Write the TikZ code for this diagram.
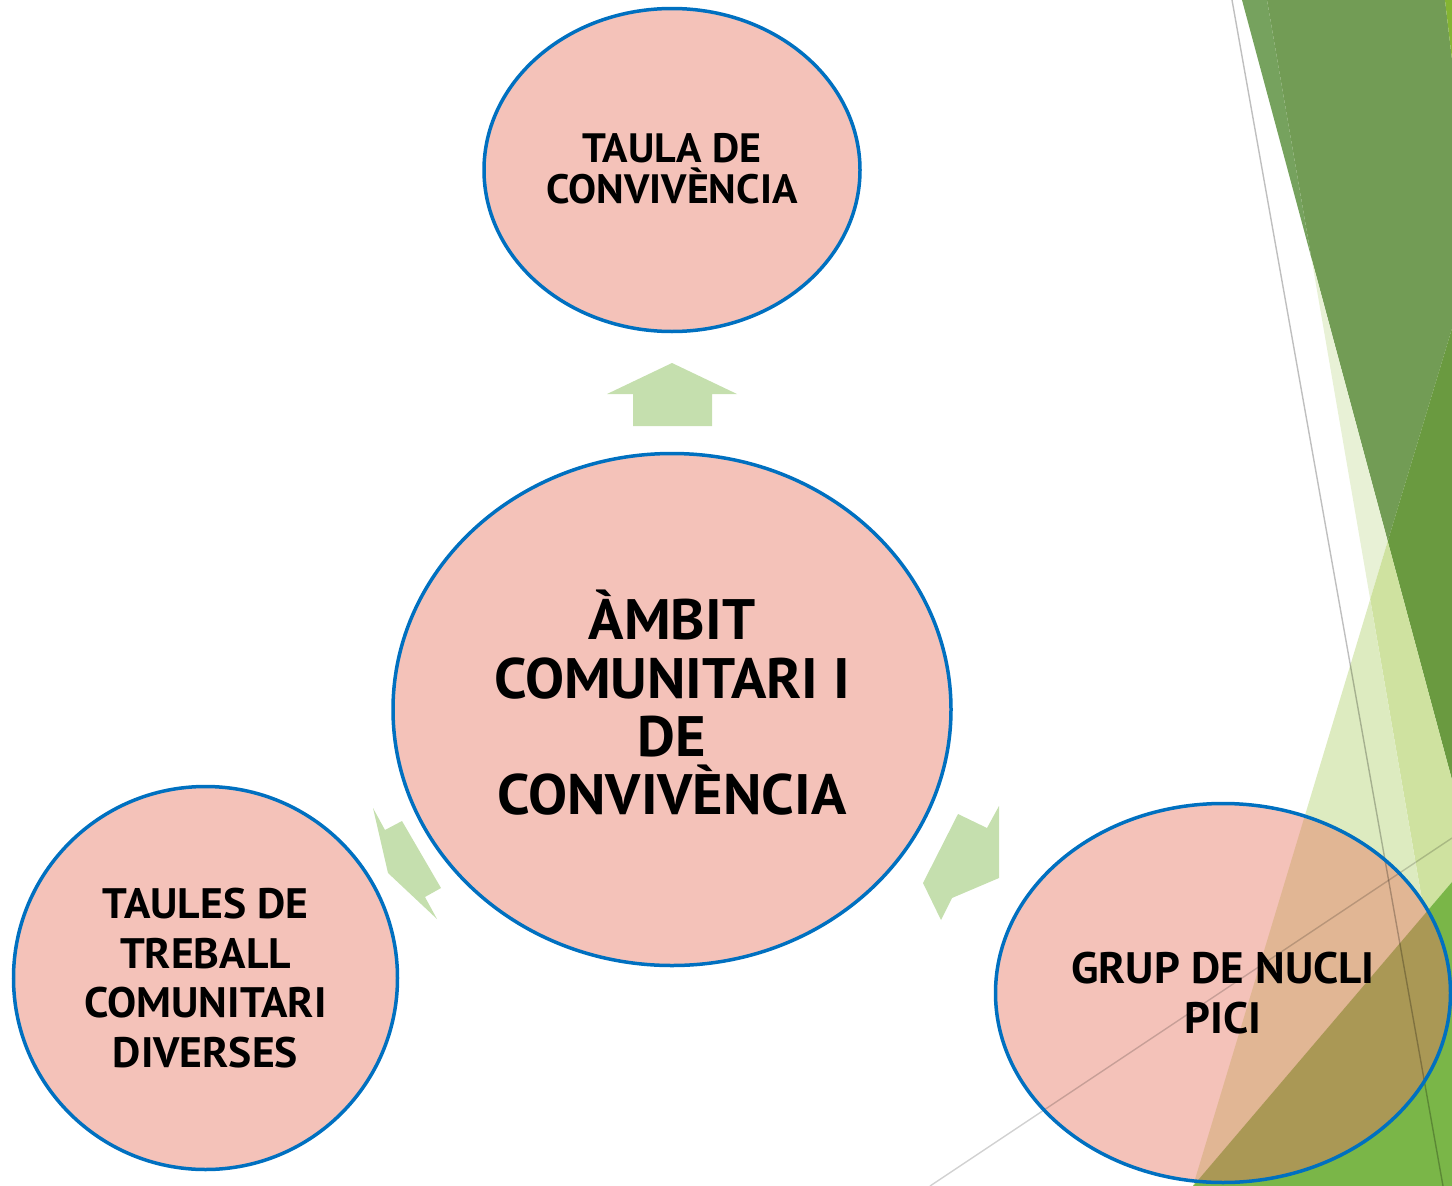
\documentclass[tikz,border=0pt]{standalone}
\usepackage{fontspec}
\setmainfont[FakeStretch=1.025]{PT Sans}
\usetikzlibrary{shapes.geometric}
\definecolor{bubblefill}{HTML}{F4C2B9}
\definecolor{bubbleline}{HTML}{0070C0}
\definecolor{arrowfill}{HTML}{C5DFAE}
\definecolor{gA}{HTML}{76A25E}
\definecolor{gB}{HTML}{729C55}
\definecolor{gBright}{HTML}{84B433}
\definecolor{gC}{HTML}{6A9A40}
\definecolor{gS}{HTML}{E8F1D6}
\definecolor{gM}{HTML}{CFE2A0}
\definecolor{gL}{HTML}{DDEBC0}
\definecolor{gG}{HTML}{7AB648}
\definecolor{tanmix}{HTML}{E1B694}
\definecolor{olivemix}{HTML}{AA9855}
\begin{document}
\begin{tikzpicture}[x=1pt,y=-1pt,
  bubble/.style={ellipse, draw=bubbleline, line width=3.5pt, fill=bubblefill, inner sep=0pt},
  bubbleborder/.style={ellipse, draw=bubbleline, line width=3.5pt, inner sep=0pt},
  bubbletext/.style={inner sep=0pt, align=center, text=black},
  arrowshape/.style={fill=arrowfill},
  thinline/.style={black, line width=1.4pt}]
\useasboundingbox (0,0) rectangle (1452,1186);
% background facets
\fill[gA] (1242,0) -- (1267,0) -- (1311.4,258) -- cycle;
\fill[gB] (1267,0) -- (1445,0) -- (1452,60) -- (1452,328.4) -- (1387.7,541.3) -- (1311.4,258) -- cycle;
\fill[gBright] (1445,0) -- (1452,0) -- (1452,60) -- cycle;
\fill[gC] (1387.7,541.3) -- (1452,328.4) -- (1452,780) -- cycle;
\fill[gS] (1311.4,258) -- (1387.7,541.3) -- (1370.2,599.3) -- cycle;
\fill[gM] (1370.2,599.3) -- (1387.7,541.3) -- (1452,780) -- (1452,882) -- (1424.5,914.4) -- cycle;
\fill[gL] (1370.2,599.3) -- (1424.5,914.4) -- (1193,1186) -- cycle;
\fill[gG] (1193,1186) -- (1452,882) -- (1452,1186) -- cycle;
% fill of the lower right bubble, tinted by the facets
\fill[bubblefill] (1223,993) ellipse [x radius=227.5, y radius=189.5];
\begin{scope}
  \clip (1223,993) ellipse [x radius=227.5, y radius=189.5];
  \fill[tanmix] (1193,1186) -- (1452,328.4) -- (1452,882) -- cycle;
  \fill[olivemix] (1193,1186) -- (1452,882) -- (1452,1186) -- cycle;
\end{scope}
% thin facet lines
\coordinate (l1a) at (1232,0);
\coordinate (l1b) at (1443,1186);
\coordinate (l2a) at (930,1186);
\coordinate (l2b) at (1452,838);
\draw[thinline, opacity=0.25] (l1a) -- (l1b);
\draw[thinline, opacity=0.18] (l2a) -- (l2b);
% arrows
\fill[arrowshape] (672,363) -- (737,394) -- (712,394) -- (712,426) -- (633,426) -- (633,394) -- (607,394) -- cycle;
\fill[arrowshape] (373,808) -- (385,830) -- (402,821) -- (441,888) -- (425,897) -- (437,919) -- (388,873) -- cycle;
\fill[arrowshape] (958,814) -- (987,828) -- (999,806) -- (999,878) -- (952,898) -- (941,920) -- (923,883) -- cycle;
% bubbles
\node[bubble, minimum width=376pt, minimum height=323pt] (taula) at (672,170) {};
\node[bubble, minimum width=558pt, minimum height=512pt] (ambit) at (672,709.5) {};
\node[bubble, minimum width=384pt, minimum height=383pt] (taules) at (205.5,978) {};
\node[bubbleborder, minimum width=455pt, minimum height=379pt] (grup) at (1223,993) {};
% texts
\node[bubbletext, font=\bfseries\fontsize{41}{40.7}\selectfont, yshift=1.5pt] (taula-t) at (taula.center) {TAULA DE\\CONVIVÈNCIA};
\node[bubbletext, font=\bfseries\fontsize{57}{58.3}\selectfont, yshift=6.5pt] (ambit-t) at (ambit.center) {ÀMBIT\\COMUNITARI I\\DE\\CONVIVÈNCIA};
\node[bubbletext, font=\bfseries\fontsize{42.6}{49.5}\selectfont] (taules-t) at (taules.center) {TAULES DE\\TREBALL\\COMUNITARI\\DIVERSES};
\node[bubbletext, font=\bfseries\fontsize{44}{50}\selectfont] (grup-t) at (grup.center) {GRUP DE NUCLI\\PICI};
\end{tikzpicture}
\end{document}
